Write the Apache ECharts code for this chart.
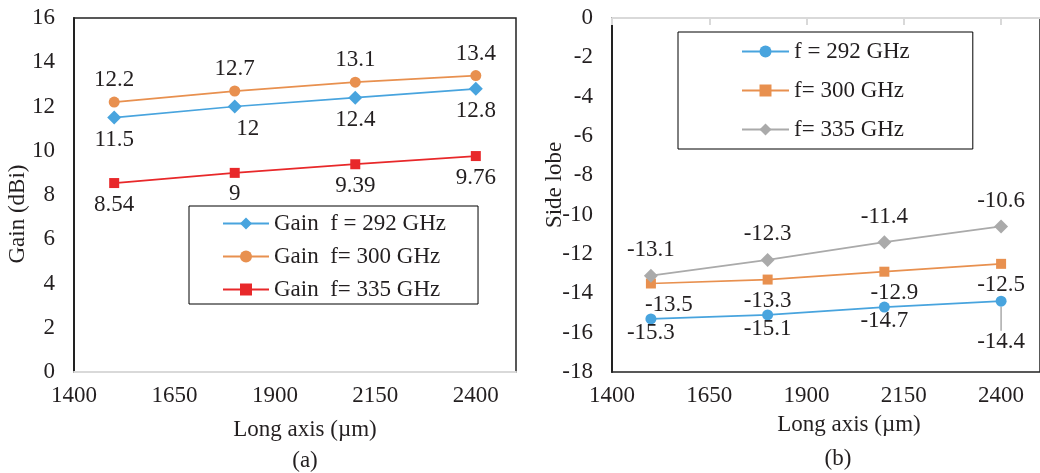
<!DOCTYPE html>
<html>
<head>
<meta charset="utf-8">
<script src="https://cdn.jsdelivr.net/npm/echarts@6/dist/echarts.min.js"></script>
<style>
	html, body { margin: 0; padding: 0; background: #fff; }
	#chart { width: 1040px; height: 473px; }
</style>
</head>
<body>
<div id="chart"></div>
<script>
// long axis (um) of each measured point
const longAxis = [1500, 1800, 2100, 2400]
const xTickLabels = [1400, 1650, 1900, 2150, 2400]

// (a) gain in dBi
const gainNames = ['Gain  f = 292 GHz', 'Gain  f= 300 GHz', 'Gain  f= 335 GHz']
const gain292 = [11.5, 12, 12.4, 12.8]
const gain300 = [12.2, 12.7, 13.1, 13.4]
const gain335 = [8.54, 9, 9.39, 9.76]

// (b) side lobe level
const sideNames = ['f = 292 GHz', 'f= 300 GHz', 'f= 335 GHz']
const side292 = [-15.3, -15.1, -14.7, -14.4]
const side300 = [-13.5, -13.3, -12.9, -12.5]
const side335 = [-13.1, -12.3, -11.4, -10.6]

const FONT = 'Liberation Serif'
const TEXT = '#231f20'
const BLUE = '#48a4de'
const ORANGE = '#e8904f'
const RED = '#e8282a'
const GRAY = '#aaaaaa'

const pairs = (ys) => longAxis.map((x, i) => [x, ys[i]])

// some labels are nudged sideways in the original
const withOffsets = (ys, offsets) =>
	pairs(ys).map((p, i) => {
		if (!offsets[i]) return p
		return { value: p, label: { offset: offsets[i] } }
	})

const symbolSizes = { diamond: 14, circle: 11, rect: 10 }

const lineSeries = (name, data, color, symbol, idx, labelPos, dist) => ({
	name: name,
	type: 'line',
	xAxisIndex: idx,
	yAxisIndex: idx,
	data: data,
	symbol: symbol,
	symbolSize: symbolSizes[symbol],
	lineStyle: { color: color, width: 1.75 },
	itemStyle: { color: color },
	label: {
		show: true,
		position: labelPos,
		distance: dist,
		color: TEXT,
		fontFamily: FONT,
		fontSize: 23,
	},
})

const xAxisBase = (idx, ticks) => ({
	type: 'value',
	gridIndex: idx,
	min: 1400,
	max: 2500,
	splitLine: { show: false },
	axisLine: { show: true, lineStyle: { color: '#d9d9d9', width: 2 } },
	axisTick: {
		show: ticks,
		customValues: xTickLabels,
		length: 7,
		lineStyle: { color: '#d9d9d9', width: 2 },
	},
	axisLabel: {
		customValues: xTickLabels,
		formatter: (v) => String(v),
		margin: 12,
		color: TEXT,
		fontFamily: FONT,
		fontSize: 23,
	},
})

const yAxisBase = (idx, min, max) => ({
	type: 'value',
	gridIndex: idx,
	min: min,
	max: max,
	interval: 2,
	splitLine: { show: false },
	axisTick: { show: false },
	axisLine: { show: true, onZero: false, lineStyle: { color: '#222', width: 2 } },
	axisLabel: { margin: 19, color: TEXT, fontFamily: FONT, fontSize: 23 },
})

const legendBase = (names, left, top, padding, gap, width) => ({
	data: names,
	orient: 'vertical',
	left: left,
	top: top,
	padding: padding,
	itemGap: gap,
	itemWidth: width,
	itemHeight: 15,
	borderColor: '#000',
	borderWidth: 1,
	selectedMode: false,
	textStyle: { color: TEXT, fontFamily: FONT, fontSize: 23 },
})

const label = (text, x, y, rot) => ({
	type: 'text',
	x: x,
	y: y,
	rotation: rot || 0,
	style: {
		text: text,
		fill: TEXT,
		font: '23px "' + FONT + '"',
		textAlign: 'center',
		textVerticalAlign: 'middle',
	},
})

$chart = echarts.init(document.getElementById('chart'))

// blue (b) last point: label pushed down with a guide line
const side292Data = pairs(side292).map((p, i) => {
	if (i === 1) return { value: p, label: { offset: [9, 0] } }
	if (i === 3) return { value: p, labelLine: { show: true, lineStyle: { color: GRAY, width: 1.5 } } }
	return p
})

const option = {
	animation: false,
	grid: [
		{ left: 74, top: 18, width: 442, height: 354, show: true, borderColor: '#222', borderWidth: 1.5 },
		{ left: 612, top: 18, width: 434, height: 354, show: true, borderColor: '#222', borderWidth: 1.5 },
	],
	xAxis: [xAxisBase(0, false), xAxisBase(1, true)],
	yAxis: [yAxisBase(0, 0, 16), yAxisBase(1, -18, 0)],
	legend: [
		legendBase(gainNames, 189, 206, [6, 32, 3, 33], 10, 46),
		legendBase(sideNames, 678, 32, [8, 63, 8, 63], 16, 47),
	],
	series: [
		lineSeries(gainNames[0], withOffsets(gain292, [null, [13, 0]]), BLUE, 'diamond', 0, 'bottom', 4),
		lineSeries(gainNames[1], pairs(gain300), ORANGE, 'circle', 0, 'top', 5),
		lineSeries(gainNames[2], pairs(gain335), RED, 'rect', 0, 'bottom', 5),
		Object.assign(lineSeries(sideNames[0], side292Data, BLUE, 'circle', 1, 'bottom', -3), {
			labelLayout: (params) => (params.dataIndex === 3 ? { dy: 27 } : {}),
		}),
		lineSeries(sideNames[1], withOffsets(side300, [[18, 0], null, [10, 0]]), ORANGE, 'rect', 1, 'bottom', 5),
		lineSeries(sideNames[2], pairs(side335), GRAY, 'diamond', 1, 'top', 7),
	],
	graphic: [
		label('Gain (dBi)', 18, 214, Math.PI / 2),
		label('Side lobe', 555, 185, Math.PI / 2),
		label('Long axis (\u00b5m)', 305, 430),
		label('Long axis (\u00b5m)', 849, 425),
		label('(a)', 305, 461),
		label('(b)', 838, 459),
	],
}

$chart.setOption(option)
</script>
</body>
</html>
